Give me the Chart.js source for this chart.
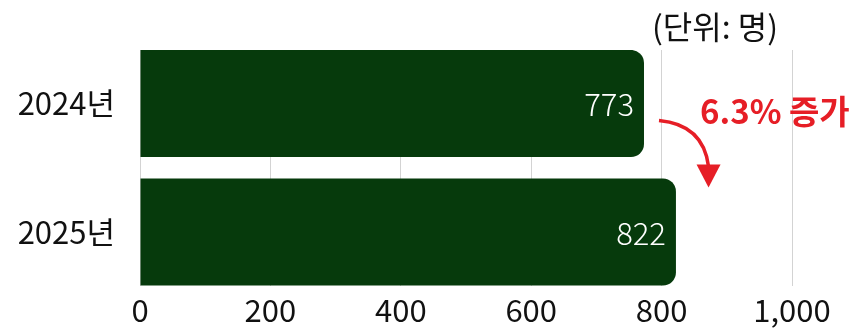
<!DOCTYPE html>
<html><head><meta charset="utf-8">
<script src="https://cdn.jsdelivr.net/npm/chart.js@4/dist/chart.umd.min.js"></script>
<style>html,body{margin:0;padding:0;background:#fff;}#wrap{width:849px;height:335px;position:relative;}</style>
</head><body>
<div id="wrap"><canvas id="c" width="849" height="335"></canvas></div>
<script>
const categories = ['2024년', '2025년'];
const values = [773, 822];
const tickValues = [0, 200, 400, 600, 800, 1000];
const unitLabel = '(단위: 명)';
const changeLabel = '6.3% 증가';

const FONT = '"Noto Sans CJK KR", "Noto Sans", sans-serif';
const GREEN = '#063a0c';
const RED = '#e61e26';

const overlay = {
  id: 'overlay',
  afterDatasetsDraw(chart) {
    const ctx = chart.ctx;
    const meta = chart.getDatasetMeta(0);
    const xs = chart.scales.x;
    ctx.save();
    ctx.fillStyle = '#ffffff';
    ctx.font = '300 31px ' + FONT;
    ctx.textAlign = 'right';
    ctx.textBaseline = 'middle';
    meta.data.forEach((bar, i) => {
      ctx.fillText(String(values[i]), bar.x - 10, bar.y + 1);
    });
    ctx.fillStyle = '#111111';
    ctx.font = '400 32px ' + FONT;
    ctx.textAlign = 'right';
    ctx.fillText(unitLabel, xs.getPixelForValue(1000) - 14, 27);
    const b0 = meta.data[0], b1 = meta.data[1];
    ctx.fillStyle = RED;
    ctx.font = '700 33px ' + FONT;
    ctx.textAlign = 'left';
    ctx.fillText(changeLabel, xs.getPixelForValue(859), b0.y + 8);
    const sx = xs.getPixelForValue(796), sy = b0.y + 17;
    const ex = xs.getPixelForValue(872), ey = b1.y - b1.height / 2 - 13;
    const cx = xs.getPixelForValue(864), cy = sy + 4;
    ctx.strokeStyle = RED;
    ctx.lineWidth = 3.5;
    ctx.beginPath();
    ctx.moveTo(sx, sy);
    ctx.quadraticCurveTo(cx, cy, ex, ey + 1);
    ctx.stroke();
    ctx.fillStyle = RED;
    ctx.beginPath();
    ctx.moveTo(ex - 12, ey - 1);
    ctx.lineTo(ex + 12, ey - 1);
    ctx.lineTo(ex, ey + 22);
    ctx.closePath();
    ctx.fill();
    ctx.restore();
  }
};

new Chart(document.getElementById('c'), {
  type: 'bar',
  data: {
    datasets: [{
      data: values.map((v, i) => ({ x: v, y: i })),
      backgroundColor: GREEN,
      borderRadius: 13,
      borderSkipped: 'start',
      barPercentage: 0.833,
      categoryPercentage: 1.0
    }]
  },
  options: {
    indexAxis: 'y',
    responsive: false,
    devicePixelRatio: 1,
    animation: false,
    layout: { padding: { top: 50, right: 57, left: 0, bottom: 0 } },
    plugins: { legend: { display: false }, tooltip: { enabled: false } },
    scales: {
      x: {
        type: 'linear',
        min: 0, max: 1000,
        offset: false,
        afterBuildTicks(scale) { scale.ticks = tickValues.map(v => ({ value: v })); },
        afterFit(scale) { scale.height = 49; },
        grid: { color: '#d3d3d3', lineWidth: 1, drawTicks: false, offset: false },
        border: { display: false },
        ticks: {
          color: '#111111',
          font: { family: FONT, size: 31 },
          padding: 6,
          maxRotation: 0,
          callback: v => v.toLocaleString('en-US')
        }
      },
      y: {
        type: 'linear',
        reverse: true,
        offset: false,
        min: -0.416,
        max: 1.42,
        afterBuildTicks(scale) { scale.ticks = categories.map((c, i) => ({ value: i })); },
        afterFit(scale) { scale.width = 140; },
        grid: { display: false, drawTicks: false, offset: false },
        border: { display: false },
        ticks: {
          color: '#111111',
          font: { family: FONT, size: 31 },
          padding: 25,
          callback: v => categories[v]
        }
      }
    }
  },
  plugins: [overlay]
});
</script>
</body></html>
